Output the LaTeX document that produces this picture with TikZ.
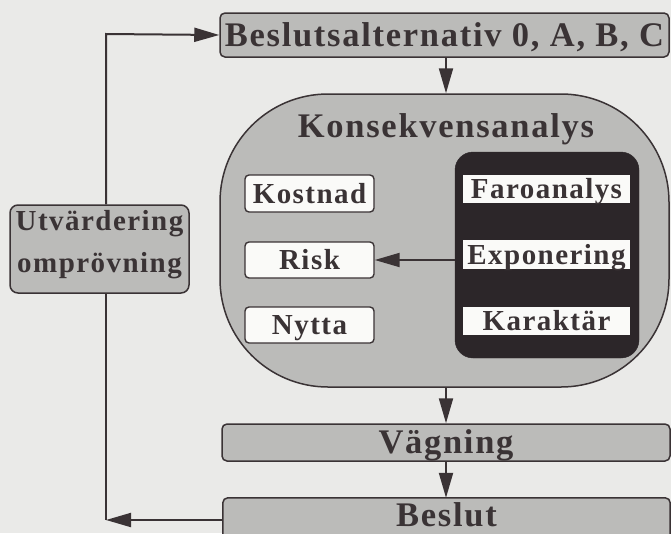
\documentclass[tikz,border=0pt]{standalone}
\usepackage{fontspec}
\setmainfont{Liberation Serif}
\newfontfamily\spacedserif[LetterSpace=5]{Liberation Serif}
\usetikzlibrary{arrows.meta,backgrounds}
\definecolor{bg}{HTML}{EAEAE8}
\definecolor{boxgray}{HTML}{BBBBB9}
\definecolor{ink}{HTML}{3A3335}
\definecolor{panel}{HTML}{2C2629}
\definecolor{paper}{HTML}{FAFAF8}
\begin{document}
\begin{tikzpicture}[x=1pt,y=-1pt,
  bigtext/.style={font=\spacedserif\bfseries\fontsize{34.5}{38}\selectfont, text=ink,
    text height=22.8pt, text depth=0pt},
  smalltext/.style={font=\spacedserif\bfseries\fontsize{29}{42}\selectfont, text=ink,
    text height=19.2pt, text depth=0pt},
  graybox/.style={draw=ink, line width=1.5pt, fill=boxgray, rounded corners=5pt,
    inner sep=0pt},
  whitebox/.style={draw=ink, line width=1.4pt, fill=paper, rounded corners=4pt,
    inner sep=0pt, minimum width=129pt},
  insetbox/.style={fill=paper, inner sep=0pt, minimum width=167pt},
  link/.style={draw=ink, line width=2pt},
  arr/.style={link, -{Triangle[length=25pt,width=14pt]}}
]
\useasboundingbox (0,0) rectangle (671,533);

% main chain
\node[graybox, bigtext, minimum width=449pt, minimum height=44pt] (alt) at (444.5,35)
  {Beslutsalternativ 0, A, B, C};
\node[draw=ink, line width=1.5pt, fill=boxgray, rounded corners=108pt,
  minimum width=449pt, minimum height=293pt, inner sep=0pt] (kons) at (444.5,240.5) {};
\node[bigtext, inner sep=0pt] (konstitle) at (446,126)
  {Konsekvensanalys};

% left column of outcomes
\node[whitebox, smalltext, minimum height=37pt] (kost) at (309.5,193.5) {Kostnad};
\node[whitebox, smalltext, minimum height=36pt] (risk) at (309.5,260) {Risk};
\node[whitebox, smalltext, minimum height=36pt] (nytta) at (309.5,325) {Nytta};

% risk analysis panel
\node[fill=panel, draw=panel, rounded corners=18pt, minimum width=184pt,
  minimum height=206pt, inner sep=0pt] (panelbox) at (547,255) {};
\node[insetbox, smalltext, minimum height=28pt] (faro) at (546.5,189) {Faroanalys};
\node[insetbox, smalltext, minimum height=29pt] (expo) at (546.5,254.5) {Exponering};
\node[insetbox, smalltext, minimum height=28pt] (kar) at (546.5,321) {Karaktär};

\node[graybox, bigtext, minimum width=448pt, minimum height=37pt] (vag) at (446,442.5)
  {Vägning};
% last box runs past the lower edge of the canvas
\node[bigtext, inner sep=0pt, minimum width=447pt, minimum height=35pt]
  (beslut) at (446.5,515.5) {Beslut};

% feedback (two-line box: baseline sits on the last line)
\node[graybox, smalltext, rounded corners=8pt, align=center, minimum width=179pt,
  minimum height=88pt, text height=61pt, text depth=15pt] (utv) at (99.5,249)
  {Utvärdering\\omprövning};

\coordinate (tl) at (106,34);
\coordinate (bl) at (106,520);

% connectors
\draw[arr] (alt.south -| konstitle) -- (kons.north -| konstitle);
\draw[arr] (kons.south -| konstitle) -- (vag.north -| konstitle);
\draw[arr] (vag.south -| konstitle) -- (beslut.north -| konstitle);
\draw[arr] (panelbox.west |- risk.east) -- (risk.east);
\draw[arr] (utv.north -| tl) -- (tl) -- (alt.west);
\draw[link] (utv.south -| bl) -- (bl);
\draw[arr] (beslut.west |- bl) -- (bl);

\begin{pgfonlayer}{background}
  % canvas
  \fill[bg] (0,0) rectangle (671,533);
  % open-bottomed box behind the last label
  \begin{scope}
    \clip (0,0) rectangle (671,533);
    \draw[draw=ink, line width=1.5pt, fill=boxgray, rounded corners=5pt]
      ([yshift=-12pt]beslut.south west) -- (beslut.north west)
      -- (beslut.north east) -- ([yshift=-12pt]beslut.south east);
  \end{scope}
\end{pgfonlayer}
\end{tikzpicture}
\end{document}
